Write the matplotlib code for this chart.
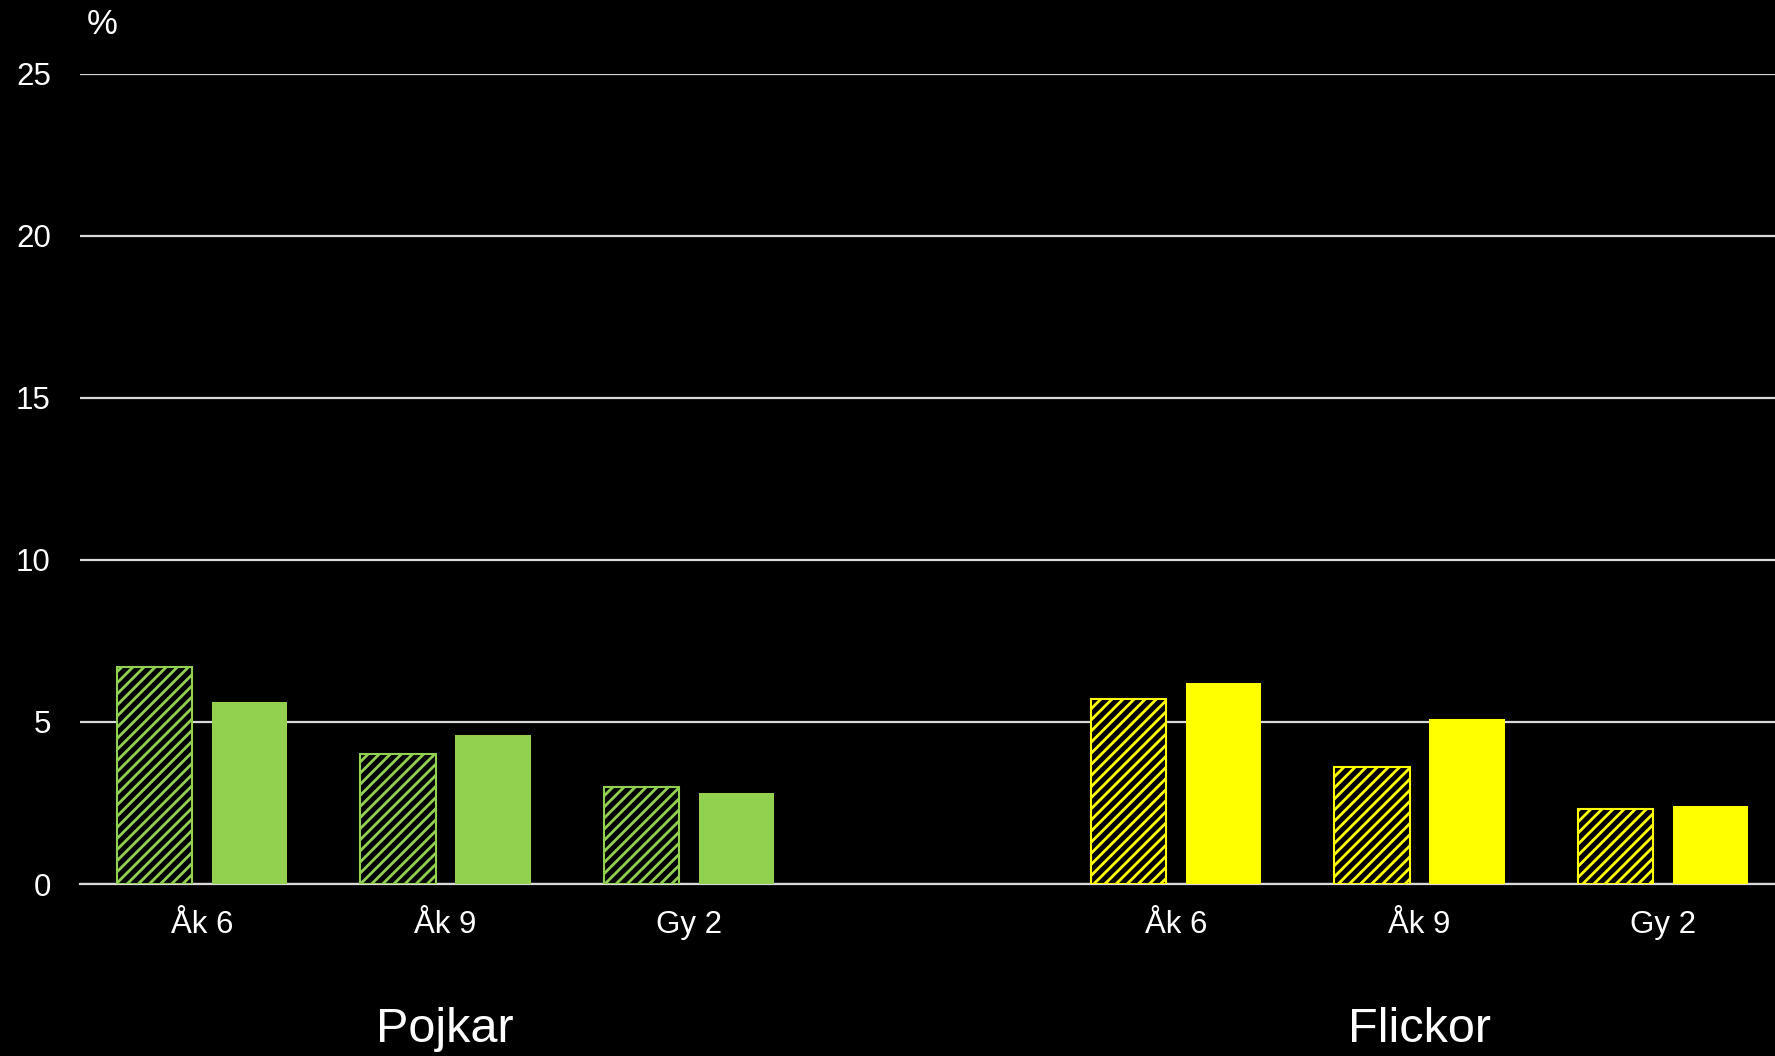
import matplotlib
matplotlib.use("Agg")
import matplotlib.pyplot as plt
import matplotlib.transforms as mtransforms
import numpy as np

plt.rcParams['font.family'] = ['Liberation Sans', 'DejaVu Sans']
plt.rcParams['hatch.linewidth'] = 2.0

# Data
groups = ['Pojkar', 'Flickor']
categories = ['Åk 6', 'Åk 9', 'Gy 2']
hatched_pojkar = [6.7, 4.0, 3.0]
solid_pojkar = [5.6, 4.6, 2.8]
hatched_flickor = [5.7, 3.6, 2.3]
solid_flickor = [6.2, 5.1, 2.4]
group_colors = ['#92D050', '#FFFF00']
yticks = [0, 5, 10, 15, 20, 25]

W, H = 1775, 1056
fig = plt.figure(figsize=(W / 100, H / 100), dpi=100, facecolor='black')
ax = fig.add_axes([80 / W, 172 / H, 1 - 80 / W, (982.4 - 172) / H])
ax.set_facecolor('black')

bw = 0.31
off = 0.195
hatched = [hatched_pojkar, hatched_flickor]
solid = [solid_pojkar, solid_flickor]
xt, xl = [], []
trans = mtransforms.blended_transform_factory(ax.transData, fig.transFigure)
for g in range(len(groups)):
    base = g * (len(categories) + 1)
    x = base + np.arange(len(categories))
    ax.bar(x - off, hatched[g], bw, facecolor='black', edgecolor=group_colors[g],
           hatch='///', linewidth=1.5, zorder=3)
    ax.bar(x + off, solid[g], bw, color=group_colors[g], linewidth=0, zorder=3)
    xt.extend(x)
    xl.extend(categories)
    ax.text(base + 1, 1 - 1030 / H, groups[g], transform=trans,
            ha='center', va='center', color='white', fontsize=35)

ax.set_xlim(-0.5, 6.46)
ax.set_ylim(0, 25)
ax.set_yticks(yticks)
ax.set_xticks(xt)
ax.set_xticklabels(xl)
ax.tick_params(axis='both', length=0, colors='white', labelsize=22.5)
ax.tick_params(axis='x', pad=19)
ax.tick_params(axis='y', pad=21)
ax.yaxis.grid(True, color='#d9d9d9', linewidth=1.6, zorder=0)
ax.set_axisbelow(True)
for s in ['top', 'right', 'left']:
    ax.spines[s].set_visible(False)
ax.spines['bottom'].set_color('#d9d9d9')
ax.spines['bottom'].set_linewidth(1.6)

fig.text(102 / W, 1 - 25 / H, '%', color='white', fontsize=25, ha='center', va='center')

fig.savefig('out.png', dpi=100, facecolor='black')
